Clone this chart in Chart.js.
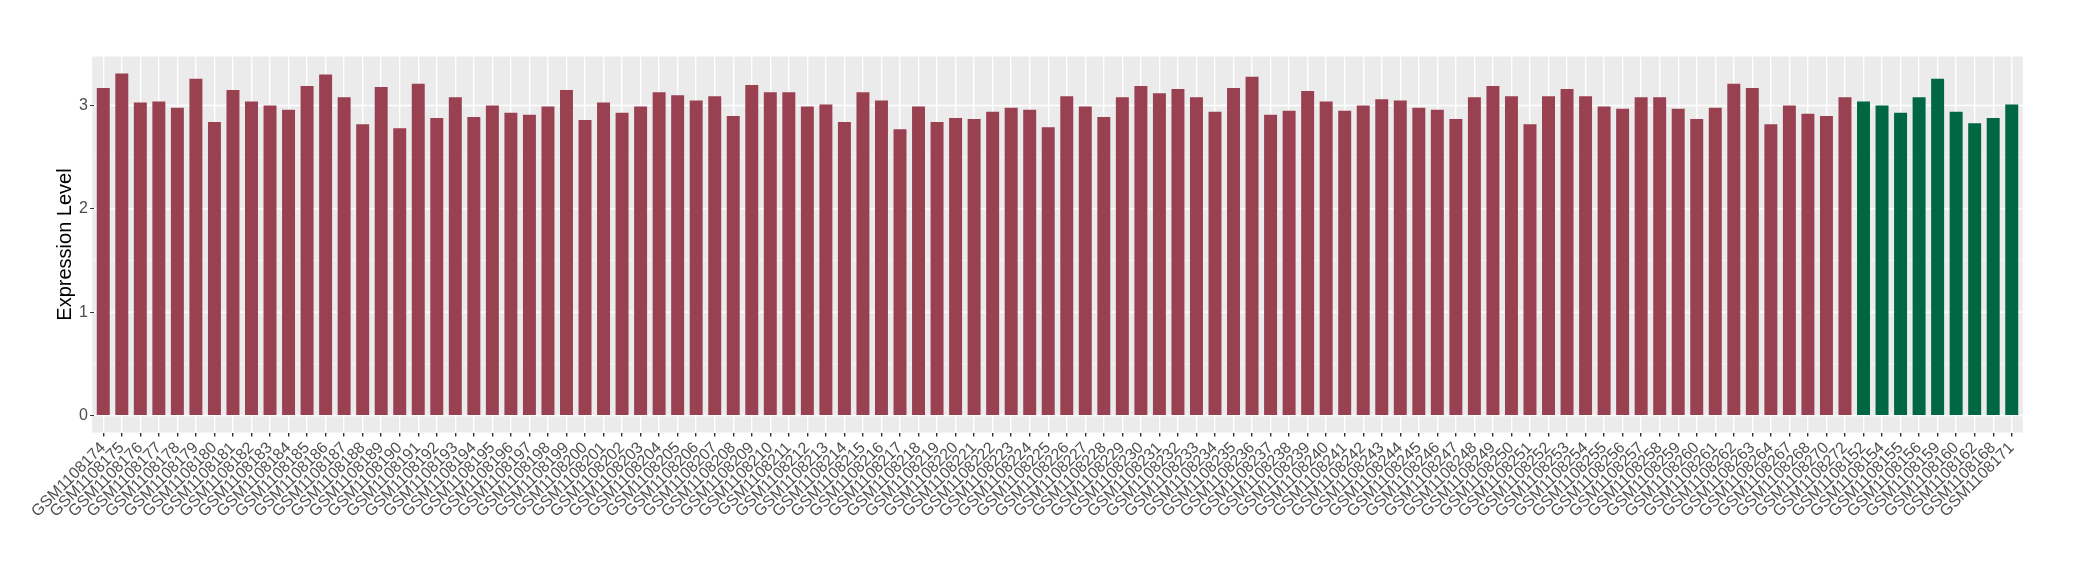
<!DOCTYPE html>
<html lang="en">
<head>
    <meta charset="UTF-8">
    <title>Expression Level</title>
    <script src="https://cdn.jsdelivr.net/npm/chart.js"></script>
    <style>
        body {
            margin: 0;
            padding: 0;
            background: #ffffff;
        }
        #chart {
            display: block;
        }
    </style>
</head>
<body>
    <canvas id="chart" width="2080" height="580"></canvas>

    <script>
        const samples = [
            'GSM1108174', 'GSM1108175', 'GSM1108176', 'GSM1108177', 'GSM1108178', 'GSM1108179', 'GSM1108180', 'GSM1108181',
            'GSM1108182', 'GSM1108183', 'GSM1108184', 'GSM1108185', 'GSM1108186', 'GSM1108187', 'GSM1108188', 'GSM1108189',
            'GSM1108190', 'GSM1108191', 'GSM1108192', 'GSM1108193', 'GSM1108194', 'GSM1108195', 'GSM1108196', 'GSM1108197',
            'GSM1108198', 'GSM1108199', 'GSM1108200', 'GSM1108201', 'GSM1108202', 'GSM1108203', 'GSM1108204', 'GSM1108205',
            'GSM1108206', 'GSM1108207', 'GSM1108208', 'GSM1108209', 'GSM1108210', 'GSM1108211', 'GSM1108212', 'GSM1108213',
            'GSM1108214', 'GSM1108215', 'GSM1108216', 'GSM1108217', 'GSM1108218', 'GSM1108219', 'GSM1108220', 'GSM1108221',
            'GSM1108222', 'GSM1108223', 'GSM1108224', 'GSM1108225', 'GSM1108226', 'GSM1108227', 'GSM1108228', 'GSM1108229',
            'GSM1108230', 'GSM1108231', 'GSM1108232', 'GSM1108233', 'GSM1108234', 'GSM1108235', 'GSM1108236', 'GSM1108237',
            'GSM1108238', 'GSM1108239', 'GSM1108240', 'GSM1108241', 'GSM1108242', 'GSM1108243', 'GSM1108244', 'GSM1108245',
            'GSM1108246', 'GSM1108247', 'GSM1108248', 'GSM1108249', 'GSM1108250', 'GSM1108251', 'GSM1108252', 'GSM1108253',
            'GSM1108254', 'GSM1108255', 'GSM1108256', 'GSM1108257', 'GSM1108258', 'GSM1108259', 'GSM1108260', 'GSM1108261',
            'GSM1108262', 'GSM1108263', 'GSM1108264', 'GSM1108267', 'GSM1108268', 'GSM1108270', 'GSM1108272',
            'GSM1108152', 'GSM1108154', 'GSM1108155', 'GSM1108156', 'GSM1108159', 'GSM1108160', 'GSM1108162', 'GSM1108168',
            'GSM1108171'
        ];

        const expression = [
            3.17, 3.31, 3.03, 3.04, 2.98, 3.26, 2.84, 3.15,
            3.04, 3.00, 2.96, 3.19, 3.30, 3.08, 2.82, 3.18,
            2.78, 3.21, 2.88, 3.08, 2.89, 3.00, 2.93, 2.91,
            2.99, 3.15, 2.86, 3.03, 2.93, 2.99, 3.13, 3.10,
            3.05, 3.09, 2.90, 3.20, 3.13, 3.13, 2.99, 3.01,
            2.84, 3.13, 3.05, 2.77, 2.99, 2.84, 2.88, 2.87,
            2.94, 2.98, 2.96, 2.79, 3.09, 2.99, 2.89, 3.08,
            3.19, 3.12, 3.16, 3.08, 2.94, 3.17, 3.28, 2.91,
            2.95, 3.14, 3.04, 2.95, 3.00, 3.06, 3.05, 2.98,
            2.96, 2.87, 3.08, 3.19, 3.09, 2.82, 3.09, 3.16,
            3.09, 2.99, 2.97, 3.08, 3.08, 2.97, 2.87, 2.98,
            3.21, 3.17, 2.82, 3.00, 2.92, 2.90, 3.08,
            3.04, 3.00, 2.93, 3.08, 3.26, 2.94, 2.83, 2.88,
            3.01
        ];

        // first 95 samples are group A, last 9 group B
        const groupSizes = [95, 9];
        const groupColors = ['#9A4151', '#006743'];

        const yTicks = [0, 0.5, 1, 1.5, 2, 2.5, 3];

        const barColors = [];
        groupSizes.forEach((n, g) => {
            for (let i = 0; i < n; i++) barColors.push(groupColors[g]);
        });

        // grey panel + horizontal grid, stretched a little past the outer bands like ggplot
        const panelBackground = {
            id: 'panelBackground',
            beforeDraw(chart) {
                const { ctx, chartArea } = chart;
                const band = (chartArea.right - chartArea.left) / samples.length;
                const left = chartArea.left - band * 0.1;
                const right = chartArea.right + band * 0.1;
                ctx.save();
                ctx.fillStyle = '#EBEBEB';
                ctx.fillRect(left, chartArea.top, right - left, chartArea.bottom - chartArea.top);
                const y = chart.scales.y;
                yTicks.forEach(v => {
                    const py = y.getPixelForValue(v);
                    const major = v % 1 === 0;
                    ctx.strokeStyle = major ? '#FFFFFF' : '#F7F7F7';
                    ctx.lineWidth = major ? 1.4 : 0.8;
                    ctx.beginPath();
                    ctx.moveTo(left, py);
                    ctx.lineTo(right, py);
                    ctx.stroke();
                });
                ctx.restore();
            }
        };

        const ctx = document.getElementById('chart').getContext('2d');
        new Chart(ctx, {
            type: 'bar',
            data: {
                labels: samples,
                datasets: [{
                    data: expression,
                    backgroundColor: barColors,
                    borderWidth: 0,
                    barPercentage: 0.7,
                    categoryPercentage: 1.0
                }]
            },
            options: {
                responsive: false,
                animation: false,
                layout: {
                    padding: { left: 49, right: 59, top: 56.5, bottom: 0 }
                },
                plugins: {
                    legend: { display: false },
                    tooltip: { enabled: false }
                },
                scales: {
                    x: {
                        offset: true,
                        grid: {
                            offset: false,
                            color: '#FFFFFF',
                            lineWidth: 1.4,
                            tickColor: '#333333',
                            tickLength: 4
                        },
                        border: { display: false },
                        ticks: {
                            autoSkip: false,
                            minRotation: 45,
                            maxRotation: 45,
                            padding: 2,
                            color: '#4D4D4D',
                            font: { family: 'Liberation Sans', size: 16 }
                        },
                        afterFit(scale) {
                            scale.height = 147.5;
                        }
                    },
                    y: {
                        min: -0.165,
                        max: 3.475,
                        afterBuildTicks(scale) {
                            scale.ticks = yTicks.map(v => ({ value: v }));
                        },
                        afterFit(scale) {
                            scale.width = 45;
                        },
                        grid: {
                            color: 'rgba(0,0,0,0)',
                            tickColor: c => (c.tick && c.tick.value % 1 === 0) ? '#333333' : 'rgba(0,0,0,0)',
                            tickLength: 4
                        },
                        border: { display: false },
                        ticks: {
                            padding: 2,
                            color: '#4D4D4D',
                            font: { family: 'Liberation Sans', size: 16 },
                            callback: v => (v % 1 === 0 ? String(v) : '')
                        },
                        title: {
                            display: true,
                            text: 'Expression Level',
                            color: '#000000',
                            font: { family: 'Liberation Sans', size: 20 }
                        }
                    }
                }
            },
            plugins: [panelBackground]
        });
    </script>
</body>
</html>
